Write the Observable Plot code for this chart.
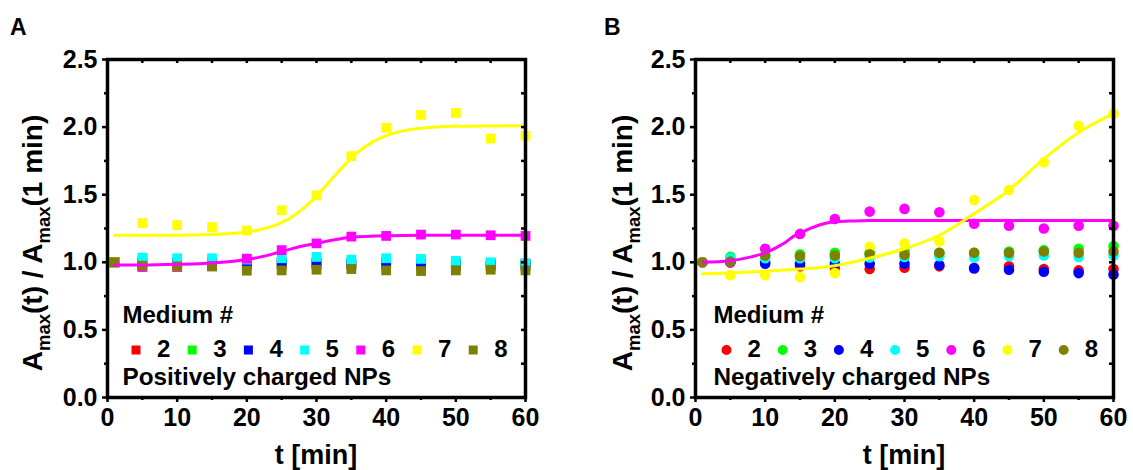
<!DOCTYPE html>
<html>
<head>
<meta charset="utf-8">
<script src="https://cdn.jsdelivr.net/npm/d3@7"></script>
<script src="https://cdn.jsdelivr.net/npm/@observablehq/plot@0.6"></script>
<style>
  html, body { margin: 0; padding: 0; background: #fff; }
  #fig { position: relative; width: 1133px; height: 470px; overflow: hidden; }
  .panel { position: absolute; top: 0; }
</style>
</head>
<body>
<div id="fig">
  <div class="panel" id="panelA" style="left:0px"></div>
  <div class="panel" id="panelB" style="left:588px"></div>
</div>
<script>
// Sampling times (min) and media
const times = [1, 5, 10, 15, 20, 25, 30, 35, 40, 45, 50, 55, 60];
const media = ["2", "3", "4", "5", "6", "7", "8"];
const mediumColors = ["#ff0000", "#00ff00", "#0000ff", "#00ffff", "#ff00ff", "#ffff00", "#808000"];

// Positively charged NPs: Amax(t) / Amax(1 min)
const posMedium2 = [1.00, 0.98, 0.98, 0.98, 0.98, 0.98, 0.98, 0.98, 0.98, 0.97, 0.97, 0.97, 0.97];
const posMedium3 = [1.00, 0.99, 0.99, 0.99, 0.99, 0.99, 0.99, 0.99, 0.99, 0.98, 0.98, 0.98, 0.98];
const posMedium4 = [1.00, 1.00, 1.00, 1.00, 0.995, 1.00, 1.00, 0.99, 1.00, 0.99, 0.99, 0.99, 0.99];
const posMedium5 = [1.00, 1.035, 1.03, 1.03, 1.02, 1.03, 1.04, 1.02, 1.03, 1.025, 1.01, 1.00, 0.99];
const posMedium6 = [1.00, 0.965, 0.965, 0.97, 1.027, 1.09, 1.14, 1.19, 1.195, 1.205, 1.205, 1.20, 1.195];
const posMedium7 = [1.00, 1.29, 1.275, 1.26, 1.235, 1.385, 1.495, 1.785, 1.995, 2.09, 2.105, 1.915, 1.935];
const posMedium8 = [1.00, 0.975, 0.97, 0.97, 0.938, 0.94, 0.945, 0.95, 0.94, 0.935, 0.94, 0.945, 0.94];

// Negatively charged NPs: Amax(t) / Amax(1 min)
const negMedium2 = [1.00, 1.00, 1.00, 0.97, 0.96, 0.95, 0.96, 0.97, 0.96, 0.97, 0.95, 0.94, 0.95];
const negMedium3 = [1.00, 1.04, 1.05, 1.06, 1.07, 1.07, 1.08, 1.07, 1.07, 1.08, 1.09, 1.10, 1.12];
const negMedium4 = [1.00, 1.00, 0.99, 0.99, 0.99, 0.99, 0.99, 0.98, 0.955, 0.945, 0.93, 0.92, 0.91];
const negMedium5 = [1.00, 1.03, 1.03, 1.03, 1.03, 1.035, 1.04, 1.045, 1.035, 1.045, 1.05, 1.04, 1.05];
const negMedium6 = [1.00, 1.00, 1.10, 1.21, 1.32, 1.375, 1.395, 1.37, 1.285, 1.27, 1.25, 1.27, 1.27];
const negMedium7 = [1.00, 0.905, 0.905, 0.89, 0.92, 1.115, 1.14, 1.155, 1.46, 1.535, 1.74, 2.01, 2.10];
const negMedium8 = [1.00, 1.005, 1.05, 1.045, 1.05, 1.06, 1.055, 1.07, 1.07, 1.07, 1.08, 1.07, 1.08];

// Fitted curves (sampled along the fit)
const posFit7T = [1, 5, 10, 15, 20, 22, 24, 26, 28, 30, 32, 34, 36, 38, 40, 42, 45, 50, 55, 60];
const posFit7V = [1.20, 1.20, 1.20, 1.206, 1.224, 1.242, 1.273, 1.321, 1.393, 1.491, 1.605, 1.719, 1.817, 1.889, 1.937, 1.968, 1.992, 2.006, 2.009, 2.01];
const posFit6T = [1, 5, 10, 15, 20, 22, 25, 28, 30, 33, 35, 40, 45, 50, 55, 60];
const posFit6V = [0.98, 0.98, 0.985, 0.995, 1.02, 1.04, 1.08, 1.12, 1.14, 1.17, 1.185, 1.197, 1.20, 1.20, 1.20, 1.20];
const negFit6T = [1, 5, 8, 10, 12, 13, 14, 15, 16, 18, 20, 22, 25, 30, 40, 50, 60];
const negFit6V = [1.00, 1.012, 1.04, 1.07, 1.12, 1.15, 1.19, 1.215, 1.24, 1.28, 1.30, 1.305, 1.31, 1.31, 1.31, 1.31, 1.31];
const negFit7T = [1, 5, 10, 15, 20, 25, 30, 35, 40, 45, 50, 55, 60];
const negFit7V = [0.915, 0.92, 0.935, 0.95, 0.975, 1.03, 1.10, 1.20, 1.36, 1.535, 1.765, 1.96, 2.10];

// Axis ticks
const xMajor = [0, 10, 20, 30, 40, 50, 60];
const xMinor = [5, 15, 25, 35, 45, 55];
const yMajor = [0, 0.5, 1.0, 1.5, 2.0, 2.5];
const yMinor = [0.25, 0.75, 1.25, 1.75, 2.25];
const xAll = [0, 5, 10, 15, 20, 25, 30, 35, 40, 45, 50, 55, 60];
const yAll = [0, 0.25, 0.5, 0.75, 1, 1.25, 1.5, 1.75, 2, 2.25, 2.5];

const FONT = "'Liberation Sans', Arial, Helvetica, sans-serif";

function toRows(series) {
  return series.flatMap((vals, i) => vals.map((v, j) => ({t: times[j], v, medium: media[i]})));
}
function fitRows(ts, vs) {
  return ts.map((t, i) => ({t, v: vs[i]}));
}

function drawPanel(el, opts) {
  const W = 545, H = 470, ML = 107, MR = 20, MT = 59, MB = 73;
  const fw = W - ML - MR, fh = H - MT - MB;
  const svg = Plot.plot({
    width: W, height: H,
    marginLeft: ML, marginRight: MR, marginTop: MT, marginBottom: MB,
    style: {fontFamily: FONT, background: "white", color: "black"},
    x: {domain: [0, 60], axis: null, label: null},
    y: {domain: [0, 2.5], axis: null, label: null},
    color: {domain: media, range: mediumColors},
    marks: [
      Plot.dot(opts.data, {x: "t", y: "v", fill: "medium", symbol: opts.symbol, r: opts.r}),
      ...opts.fits.map(f => Plot.line(fitRows(f.t, f.v), {x: "t", y: "v", stroke: f.color, strokeWidth: 3, curve: "monotone-x"})),
      Plot.axisX({ticks: xMajor, tickSize: 5, tickPadding: 6, tickFormat: d => d, fontSize: 25, fontWeight: "bold", label: null, strokeWidth: 2.5}),
      Plot.axisX({ticks: xMinor, tickSize: 3, tickFormat: () => "", label: null, strokeWidth: 2.5}),
      Plot.axisY({ticks: yMajor, tickSize: 5, tickPadding: 5, tickFormat: d3.format(".1f"), fontSize: 25, fontWeight: "bold", label: null, strokeWidth: 2.5}),
      Plot.axisY({ticks: yMinor, tickSize: 3, tickFormat: () => "", label: null, strokeWidth: 2.5}),
      Plot.tickX(xAll, {x: d => d, insetBottom: fh - 4, stroke: "black", strokeWidth: 2.5}),
      Plot.tickY(yAll, {y: d => d, insetLeft: fw - 4, stroke: "black", strokeWidth: 2.5}),
      Plot.frame({stroke: "black", strokeWidth: 3.5})
    ]
  });

  const s = d3.select(svg);
  const g = s.append("g")
    .attr("font-family", FONT).attr("font-weight", "bold")
    .attr("fill", "black").attr("text-anchor", "start");

  // panel letter
  g.append("text").attr("x", opts.letterX).attr("y", 35).attr("font-size", 23).text(opts.letter);

  // x axis title
  g.append("text").attr("x", ML + fw / 2).attr("y", 464).attr("text-anchor", "middle")
    .attr("font-size", 27).text("t [min]");

  // y axis title with subscripts
  const yt = g.append("text")
    .attr("transform", `translate(${opts.titleX},243) rotate(-90)`)
    .attr("text-anchor", "middle").attr("font-size", 28);
  yt.append("tspan").text("A");
  yt.append("tspan").attr("font-size", 18.5).attr("dy", 8).text("max");
  yt.append("tspan").attr("dy", -8).text("(t) / A");
  yt.append("tspan").attr("font-size", 18.5).attr("dy", 8).text("max");
  yt.append("tspan").attr("dy", -8).text("(1 min)");

  // in-plot legend
  const lx = ML + opts.legendDx;
  g.append("text").attr("x", lx).attr("y", 323).attr("font-size", 24).text("Medium #");
  media.forEach((m, i) => {
    const cx = ML + opts.symbolDx + i * 56.2;
    g.append("path")
      .attr("transform", `translate(${cx},350)`)
      .attr("d", d3.symbol(opts.symbol === "square" ? d3.symbolSquare : d3.symbolCircle, opts.legendArea)())
      .attr("fill", mediumColors[i]);
    g.append("text").attr("x", cx + 21).attr("y", 357).attr("font-size", 24).text(m);
  });
  g.append("text").attr("x", lx).attr("y", 385).attr("font-size", 24.3).text(opts.note);

  el.appendChild(svg);
}

drawPanel(document.getElementById("panelA"), {
  data: toRows([posMedium2, posMedium3, posMedium4, posMedium5, posMedium6, posMedium7, posMedium8]),
  fits: [
    {t: posFit6T, v: posFit6V, color: "#ff00ff"},
    {t: posFit7T, v: posFit7V, color: "#ffff00"}
  ],
  symbol: "square", r: 5.5, legendArea: 81,
  letter: "A", letterX: 10, titleX: 42,
  legendDx: 15.5, symbolDx: 29, note: "Positively charged NPs"
});

drawPanel(document.getElementById("panelB"), {
  data: toRows([negMedium2, negMedium3, negMedium4, negMedium5, negMedium6, negMedium7, negMedium8]),
  fits: [
    {t: negFit6T, v: negFit6V, color: "#ff00ff"},
    {t: negFit7T, v: negFit7V, color: "#ffff00"}
  ],
  symbol: "circle", r: 5.3, legendArea: 78.5,
  letter: "B", letterX: 16, titleX: 44,
  legendDx: 18.5, symbolDx: 31.5, note: "Negatively charged NPs"
});
</script>
</body>
</html>
